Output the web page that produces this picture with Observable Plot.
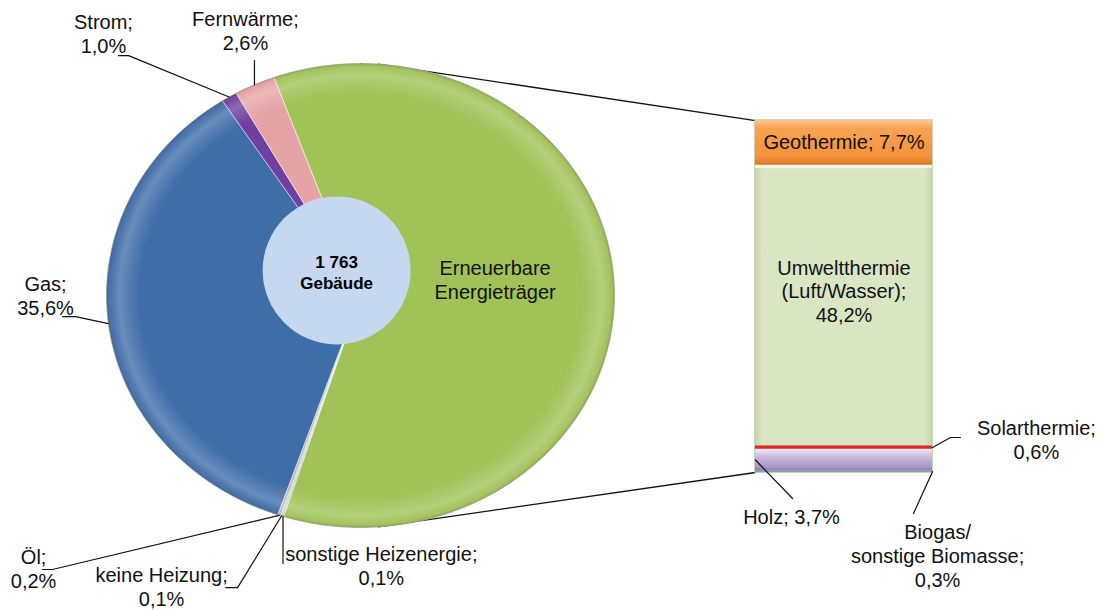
<!DOCTYPE html>
<html><head><meta charset="utf-8">
<script src="https://cdn.jsdelivr.net/npm/d3@7"></script>
<script src="https://cdn.jsdelivr.net/npm/@observablehq/plot@0.6"></script>
<style>body{margin:0;background:#fff}</style>
</head><body><div id="chart"></div>
<script>
// ---------- DATA ----------
const pieCategories = ["Erneuerbare Energieträger", "sonstige Heizenergie", "keine Heizung", "Öl", "Gas", "Strom", "Fernwärme"];
const pieShares = [60.5, 0.1, 0.1, 0.2, 35.6, 1.0, 2.6];
const pieLabelNames = ["Erneuerbare\nEnergieträger", "sonstige Heizenergie", "keine Heizung", "Öl", "Gas", "Strom", "Fernwärme"];
const pieColors = ["#a0c257", "#b9b9b9", "#b9b9b9", "#b9b9b9", "#3f6da8", "#7040a0", "#e6a3a6"];

const barCategories = ["Biogas/ sonstige Biomasse", "Holz", "Solarthermie", "Umweltthermie (Luft/Wasser)", "Geothermie"];
const barShares = [0.3, 3.7, 0.6, 48.2, 7.7];
const barLabelNames = ["Biogas/\nsonstige Biomasse", "Holz", "Solarthermie", "Umweltthermie\n(Luft/Wasser)", "Geothermie"];
const barFills = ["#6fa6b6", "url(#gPurple)", "#e0282a", "url(#gGreen)", "url(#gOrange)"];

const centerValue = "1 763";
const centerUnit = "Gebäude";

// ---------- LAYOUT (units: pie radius = 1) ----------
const W = 1104, H = 610;
const cxPx = 360, cyPx = 295, rxPx = 254, ryPx = 232;
const startAngle = -20;            // degrees clockwise from 12 o'clock
const bar = {x0: 1.555, x1: 2.252, top: 0.754, bottom: -0.763};
const connectorAngles = [4, 176];  // where the series lines leave the pie
const hole = {x: -0.094, y: 0.108, r: 74};
const FS = 20;

// label placement: anchor [u,v], separator, leader points after the start point
const pieCallouts = {
  "Strom": {at: [-1.012, 1.129], sep: "\n", leader: [[-0.913, 1.034], [-0.953, 1.034]]},
  "Fernwärme": {at: [-0.453, 1.142], sep: "\n", vertical: 1.013},
  "Gas": {at: [-1.24, 0.0], sep: "\n", leader: [[-1.122, -0.091], [-1.173, -0.091]]},
  "Öl": {at: [-1.287, -1.177], sep: "\n", leader: [[-1.213, -1.181], [-1.252, -1.181]]},
  "keine Heizung": {at: [-0.783, -1.254], sep: "\n", leader: [[-0.484, -1.259], [-0.531, -1.259]]},
  "sonstige Heizenergie": {at: [0.082, -1.164], sep: "\n", vertical: -1.155}
};
const barCallouts = {
  "Solarthermie": {side: "right", at: [2.661, -0.621], sep: "\n", leader: [[2.323, -0.612], [2.362, -0.612]]},
  "Holz": {side: "left", at: [1.697, -0.953], sep: " ", leader: [[1.701, -0.875]]},
  "Biogas/\nsonstige Biomasse": {side: "right", at: [2.272, -1.121], sep: "\n", leader: [[2.177, -0.94]]}
};

// ---------- GEOMETRY ----------
const fmt = v => v.toFixed(1).replace(".", ",") + "%";
const rad = d => d * Math.PI / 180;
const pt = (deg, r = 1) => [r * Math.sin(rad(deg)), r * Math.cos(rad(deg))];
const total = d3.sum(pieShares);
let acc = startAngle;
const slices = pieCategories.map((c, i) => {
  const a0 = acc, a1 = acc + pieShares[i] / total * 360; acc = a1;
  return {c, name: pieLabelNames[i], v: pieShares[i], a0, a1, mid: (a0 + a1) / 2, color: pieColors[i]};
});
function arcPts(a0, a1, r = 1, withCenter = true) {
  const pts = withCenter ? [{x: 0, y: 0}] : [];
  const n = Math.max(2, Math.ceil((a1 - a0) / 0.5));
  for (let j = 0; j <= n; j++) { const [x, y] = pt(a0 + (a1 - a0) * j / n, r); pts.push({x, y}); }
  return pts;
}
const ellipse = arcPts(0, 360, 1, false);

const barTotal = d3.sum(barShares);
const k = (bar.top - bar.bottom) / barTotal;
let cum = 0;
const segs = barCategories.map((c, i) => {
  const y1 = bar.bottom + cum * k; cum += barShares[i];
  const y2 = bar.bottom + cum * k;
  return {c, name: barLabelNames[i], v: barShares[i], y1, y2, mid: (y1 + y2) / 2, fill: barFills[i]};
});

// callouts
const leaderPaths = [];
const outsideLabels = [];
slices.forEach(s => {
  const L = pieCallouts[s.name]; if (!L) return;
  const [ex, ey] = pt(s.mid, 1);
  const path = [[ex, ey]];
  if (L.vertical !== undefined) path.push([ex, L.vertical]);
  if (L.leader) path.push(...L.leader);
  leaderPaths.push(path.map(([x, y]) => ({x, y, id: s.name})));
  outsideLabels.push({x: L.at[0], y: L.at[1], text: s.name + ";" + L.sep + fmt(s.v)});
});
segs.forEach(s => {
  const L = barCallouts[s.name]; if (!L) return;
  const path = [[L.side === "right" ? bar.x1 : bar.x0, s.mid], ...L.leader];
  leaderPaths.push(path.map(([x, y]) => ({x, y, id: s.name})));
  outsideLabels.push({x: L.at[0], y: L.at[1], text: s.name + ";" + L.sep + fmt(s.v)});
});
const leaders = leaderPaths.flat();

const connectors = connectorAngles.map((a, i) => {
  const [x, y] = pt(a, 1);
  return [{x, y, id: i}, {x: bar.x0, y: i === 0 ? bar.top : bar.bottom, id: i}];
}).flat();

const green = slices[0];
const [gx, gy] = pt(green.mid, 0.53);
const geo = segs[4], umw = segs[3];

const font = "'Liberation Sans', Arial, sans-serif";

const plot = Plot.plot({
  width: W, height: H, margin: 0,
  x: {domain: [-cxPx / rxPx, (W - cxPx) / rxPx], axis: null},
  y: {domain: [(cyPx - H) / ryPx, cyPx / ryPx], axis: null},
  style: {fontFamily: font, background: "#fff", color: "#111"},
  marks: [
    // series lines
    Plot.line(connectors, {x: "x", y: "y", z: "id", stroke: "#111", strokeWidth: 1.3}),
    // pie slices
    ...slices.map(s => Plot.line(arcPts(s.a0, s.a1), {x: "x", y: "y", fill: s.color, stroke: "#ffffff", strokeOpacity: 0.55, strokeWidth: 1, curve: "linear-closed"})),
    // bevel rim
    Plot.line(ellipse, {x: "x", y: "y", fill: "url(#rim)", stroke: "#5f6f4a", strokeOpacity: 0.4, strokeWidth: 1, curve: "linear-closed"}),
    // bar
    Plot.rect([bar], {x1: "x0", x2: "x1", y1: "bottom", y2: "top", fill: "#d8e5c2", stroke: "#b8c4a6", strokeWidth: 1.5}),
    Plot.rect(segs, {x1: bar.x0, x2: bar.x1, y1: "y1", y2: "y2", fill: "fill"}),
    Plot.rect([geo], {x1: bar.x0, x2: bar.x1, y1: d => d.y1 - 0.014, y2: d => d.y1, fill: "#f3f4ee"}),
    // hole
    Plot.dot([hole], {x: "x", y: "y", r: hole.r, fill: "#c5d8f0", stroke: "none"}),
    // leaders
    Plot.line(leaders, {x: "x", y: "y", z: "id", stroke: "#111", strokeWidth: 1.2}),
    // labels
    Plot.text(outsideLabels, {x: "x", y: "y", text: "text", fontSize: FS, lineHeight: 1.2, fill: "#111"}),
    Plot.text([{x: gx, y: gy}], {x: "x", y: "y", text: () => green.name, dy: -14, fontSize: FS, lineHeight: 1.2, fill: "#111"}),
    Plot.text([geo], {x: (bar.x0 + bar.x1) / 2, y: "mid", text: d => d.name + "; " + fmt(d.v), fontSize: FS, fill: "#111"}),
    Plot.text([umw], {x: (bar.x0 + bar.x1) / 2, y: "mid", text: d => d.name + ";\n" + fmt(d.v), dy: -15, fontSize: FS, lineHeight: 1.18, fill: "#111"}),
    Plot.text([hole], {x: "x", y: "y", text: () => centerValue + "\n" + centerUnit, fontSize: 17, fontWeight: "bold", lineHeight: 1.25, fill: "#000", dy: 1})
  ]
});

const defs = document.createElementNS("http://www.w3.org/2000/svg", "defs");
defs.innerHTML = `
<radialGradient id="rim" cx="0.5" cy="0.5" r="0.5">
  <stop offset="0" stop-color="#fff" stop-opacity="0"/>
  <stop offset="0.87" stop-color="#fff" stop-opacity="0"/>
  <stop offset="0.95" stop-color="#fff" stop-opacity="0.22"/>
  <stop offset="0.985" stop-color="#fff" stop-opacity="0.05"/>
  <stop offset="1" stop-color="#000" stop-opacity="0.18"/>
</radialGradient>
<linearGradient id="gOrange" x1="0" y1="0" x2="0" y2="1">
  <stop offset="0" stop-color="#fbc590"/>
  <stop offset="0.18" stop-color="#f8a352"/>
  <stop offset="0.8" stop-color="#f4933b"/>
  <stop offset="1" stop-color="#d97b28"/>
</linearGradient>
<linearGradient id="gPurple" x1="0" y1="0" x2="0" y2="1">
  <stop offset="0" stop-color="#f1e9f7"/>
  <stop offset="0.35" stop-color="#cbbcde"/>
  <stop offset="0.85" stop-color="#a995c6"/>
  <stop offset="1" stop-color="#8f7bb0"/>
</linearGradient>
<linearGradient id="gGreen" x1="0" y1="0" x2="1" y2="0">
  <stop offset="0" stop-color="#c5d5a6"/>
  <stop offset="0.04" stop-color="#d9e6c4"/>
  <stop offset="0.96" stop-color="#d9e6c4"/>
  <stop offset="1" stop-color="#c5d5a6"/>
</linearGradient>`;
plot.insertBefore(defs, plot.firstChild);
document.getElementById("chart").appendChild(plot);
</script>
</body></html>
